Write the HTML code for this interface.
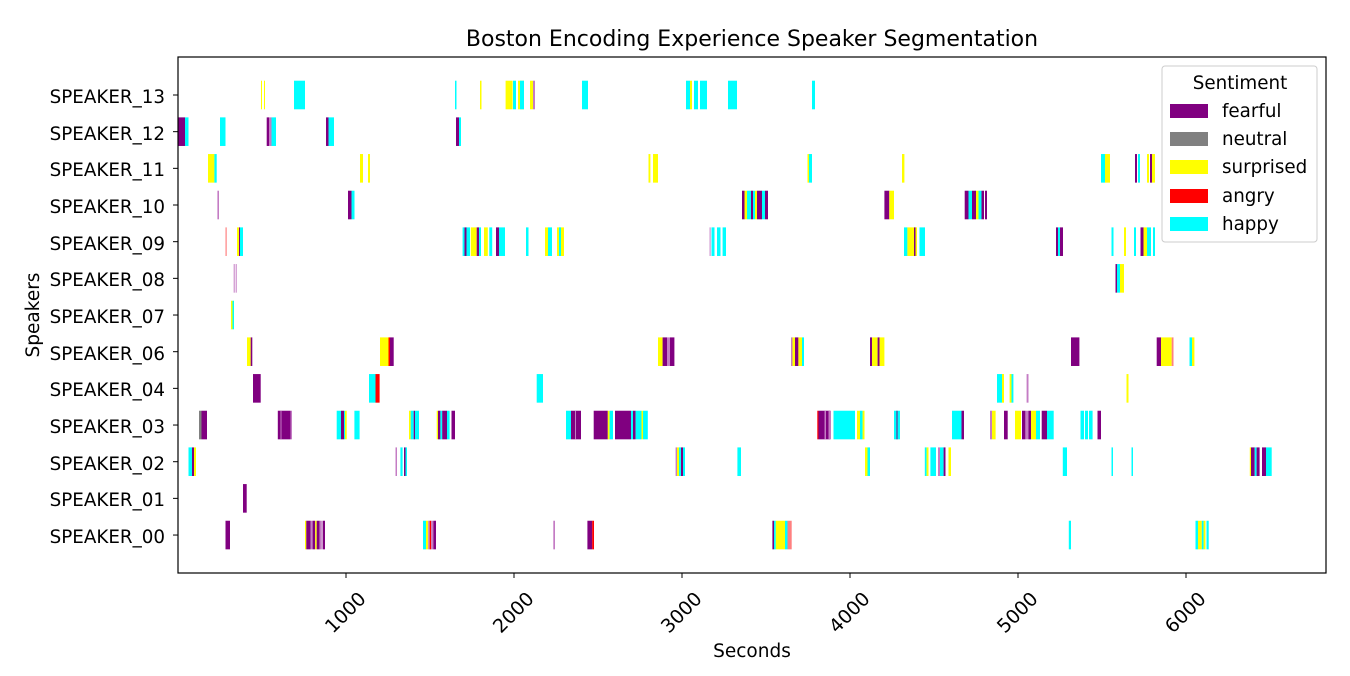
<!DOCTYPE html>
<html><head><meta charset="utf-8"><style>
html,body{margin:0;padding:0;background:#fff;}
svg{display:block;font-family:"DejaVu Sans","Liberation Sans",sans-serif;}
</style></head><body>
<svg id="s" width="1350" height="676" viewBox="0 0 1350 676" xmlns="http://www.w3.org/2000/svg">
<rect width="1350" height="676" fill="#fff"/>
<g id="bars"></g>
<rect x="178" y="57" width="1148" height="516" fill="none" stroke="#000" stroke-width="1.2"/>
<text x="752" y="46" font-size="22" text-anchor="middle">Boston Encoding Experience Speaker Segmentation</text>
<g font-size="18.3" text-anchor="end" id="ylab">
<text x="165" y="103">SPEAKER_13</text>
<text x="165" y="140">SPEAKER_12</text>
<text x="165" y="176">SPEAKER_11</text>
<text x="165" y="213">SPEAKER_10</text>
<text x="165" y="250">SPEAKER_09</text>
<text x="165" y="286">SPEAKER_08</text>
<text x="165" y="323">SPEAKER_07</text>
<text x="165" y="360">SPEAKER_06</text>
<text x="165" y="396">SPEAKER_04</text>
<text x="165" y="433">SPEAKER_03</text>
<text x="165" y="470">SPEAKER_02</text>
<text x="165" y="506">SPEAKER_01</text>
<text x="165" y="543">SPEAKER_00</text>
</g>
<g id="yt" stroke="#000" stroke-width="1"></g>
<g font-size="19" text-anchor="middle">
<text transform="translate(350,617) rotate(-45)">1000</text>
<text transform="translate(518,617) rotate(-45)">2000</text>
<text transform="translate(686,617) rotate(-45)">3000</text>
<text transform="translate(854,617) rotate(-45)">4000</text>
<text transform="translate(1022,617) rotate(-45)">5000</text>
<text transform="translate(1190,617) rotate(-45)">6000</text>
</g>
<g stroke="#000" stroke-width="1">
<line x1="346" y1="573" x2="346" y2="578"/><line x1="514" y1="573" x2="514" y2="578"/><line x1="682" y1="573" x2="682" y2="578"/><line x1="850" y1="573" x2="850" y2="578"/><line x1="1018" y1="573" x2="1018" y2="578"/><line x1="1186" y1="573" x2="1186" y2="578"/>
</g>
<text x="752" y="657" font-size="18.5" text-anchor="middle">Seconds</text>
<text transform="translate(39,315) rotate(-90)" font-size="18.5" text-anchor="middle">Speakers</text>
<rect x="1162" y="66" width="155" height="176" rx="3" fill="#fff" fill-opacity="0.8" stroke="#ccc"/>
<text x="1240" y="89" font-size="18.3" text-anchor="middle">Sentiment</text>
<rect x="1170" y="104" width="38" height="14" fill="#800080"/>
<rect x="1170" y="132" width="38" height="14" fill="#808080"/>
<rect x="1170" y="160" width="38" height="14" fill="#ffff00"/>
<rect x="1170" y="189" width="38" height="14" fill="#ff0000"/>
<rect x="1170" y="217" width="38" height="14" fill="#00ffff"/>
<g font-size="18.3">
<text x="1222" y="117">fearful</text>
<text x="1222" y="145">neutral</text>
<text x="1222" y="173">surprised</text>
<text x="1222" y="202">angry</text>
<text x="1222" y="230">happy</text>
</g>
</svg>
<script>
var P='#800080',L='#c47cc4',G='#808080',Y='#ffff00',R='#ff0000',C='#00ffff',LR='#ff8080';
var rows=[
[[261,262,Y],[264,265,Y],[294,305,C],[455,456.5,C],[480,481.5,Y],[505.6,512.6,Y],[513,516,C],[518,524,Y],[520,524,C],[530,533,Y],[533,535,L],[582,588,C],[686,690,C],[690,692,Y],[694,698,C],[700,707,C],[728,737,C],[812,815,C]],
[[178,185,P],[185,188.5,C],[220,225.5,C],[266.7,269,P],[269,271.5,L],[271.5,276,C],[326,328.5,P],[328.5,334,C],[456,459,P],[459,461,C]],
[[208,214.4,Y],[214.4,216.7,C],[360,363,Y],[368,370,Y],[648.5,650.4,Y],[653,658,Y],[807.5,809,Y],[809,812,C],[902,904.4,Y],[1101,1105,C],[1105,1110,Y],[1135,1137,P],[1138,1140,C],[1147,1149,Y],[1150,1152,P],[1152,1155,Y]],
[[217.4,219,L],[348,351.5,P],[351.5,354.5,C],[742,744.6,P],[744.6,747,Y],[747,751,C],[751,753,P],[753,755,C],[755,757,Y],[757,762,P],[762,765,C],[765,768,P],[884.4,889.3,P],[889.3,894,Y],[964.7,968.5,P],[968.5,972,C],[972,976,P],[976,978.5,Y],[978.5,981.5,C],[981.5,984,P],[985,987,P]],
[[225.5,226.7,LR],[237,239,Y],[239,240,P],[240,243,C],[462.6,464.5,C],[464.5,466.5,P],[466.5,470,C],[470.8,476.7,Y],[476.7,479,P],[479,481,C],[484,487.8,Y],[489.3,492.2,C],[496,499,P],[499,505,C],[526,528.5,C],[545,548,Y],[548,552,C],[557,564,Y],[559,561,C],[709.6,710.6,L],[711.5,714.5,C],[717,720.5,C],[722.6,726,C],[904,907.4,C],[907.4,917,Y],[914,915.5,P],[919.5,925,C],[1056,1058,P],[1058,1060,C],[1060,1063,P],[1111.5,1113.5,C],[1124,1126,Y],[1134,1136,C],[1140.5,1143.5,P],[1143.5,1147,Y],[1147,1151,C],[1153,1155,C]],
[[233.7,234.7,L],[235.7,236.7,L],[1115.5,1117,P],[1117,1120,C],[1120,1124,Y]],
[[231,232.5,Y],[232.5,234,C]],
[[247,250.7,Y],[250.7,252.3,P],[380,388.5,Y],[388.5,390,R],[390,393.7,P],[658,662.6,Y],[662.6,667,P],[667,670,L],[670,674.4,P],[791,792.5,L],[792.5,795,Y],[795,798.4,P],[798.4,802,Y],[802,804,C],[870,872,P],[872,877.6,Y],[877.6,879.5,P],[879.5,884.4,Y],[1071,1079.4,P],[1156.7,1161,P],[1161,1171.7,Y],[1171.7,1173.5,LR],[1189.5,1192,C],[1192,1194.4,Y]],
[[253,260.7,P],[369,375.5,C],[375.5,379.6,R],[536.7,543,C],[997,1002,C],[1002,1004,Y],[1009.6,1011.5,Y],[1011.5,1013.4,C],[1026.6,1028.5,L],[1126.5,1128.5,Y]],
[[199,201.5,G],[201.5,207,P],[277.8,290.5,P],[280.5,281.5,L],[290.5,292,L],[336.7,341,C],[341,344,P],[344,345,C],[345,346.7,Y],[354.4,359.6,C],[409,410.7,Y],[410.7,413.7,C],[413.7,415,P],[415,419,C],[436.7,438,Y],[438,440.4,P],[440.4,442.2,C],[442.2,447,P],[447,449.6,C],[451.5,455,P],[566,571,C],[571,581,P],[575,576,L],[593.7,607.8,P],[607.8,609.6,Y],[609.6,613,C],[615,631,P],[631,633,C],[633,635.6,P],[635.6,641.5,C],[641.5,643,Y],[643,647.8,C],[817.3,818.5,R],[818.5,830.5,P],[824.5,826,L],[828.5,830,L],[833.5,855,C],[857,860,Y],[860,862.6,C],[862.6,864.5,Y],[894,900,C],[896.5,897.5,P],[952,961.5,C],[961.5,964,P],[990,992,L],[992,995.6,Y],[1004,1007.7,P],[1015,1021,Y],[1022,1025.4,P],[1025.4,1028.5,L],[1028.5,1031,P],[1031,1036,Y],[1036,1040,C],[1041.7,1047,P],[1047,1053.7,C],[1080.5,1084,C],[1085,1088,C],[1089,1092.6,C],[1097.5,1101,P]],
[[188.5,192,C],[192,194,P],[194,196,Y],[395.5,397,L],[400.4,402.6,C],[404,405.5,P],[405.5,407,C],[675.6,677,L],[677,679,Y],[679,681,C],[681,683,P],[683,685,C],[737.4,741,C],[865,867.5,Y],[867.5,870,C],[924.8,926.6,C],[926.6,928.5,Y],[930.4,936,C],[938,940,L],[940,943.6,C],[943.6,945.5,P],[948.5,951,Y],[1062.8,1067,C],[1111.5,1113,C],[1131.5,1133,C],[1249.8,1251,Y],[1251,1254.7,P],[1254.7,1256.6,C],[1256.6,1259.6,P],[1262,1266,P],[1266,1268.5,C],[1268.5,1271.7,C]],
[[243,246.7,P]],
[[225.5,230,P],[305,306.3,Y],[306.3,310.7,P],[310.7,312.6,L],[312.6,315.2,P],[315.2,316.7,Y],[316.7,319.6,P],[319.6,321.8,L],[322.6,325,P],[423,426,C],[426,428.2,Y],[428.2,429.7,L],[429.7,431.2,R],[431.2,433.4,L],[433.4,436,P],[553.3,555,L],[587.4,592.2,P],[592.2,594,R],[772.4,774,P],[774,775.8,C],[775.8,785,Y],[785,787.5,C],[787.5,791.7,LR],[1068.8,1071,C],[1195.5,1198,C],[1198,1201.8,Y],[1201.8,1203.6,C],[1203.6,1205.5,Y],[1206.5,1208.7,C]]
];
var ns='http://www.w3.org/2000/svg',g=document.getElementById('bars'),yt=document.getElementById('yt');
rows.forEach(function(r,i){
 var top=80.7+i*36.67;
 r.forEach(function(b){var e=document.createElementNS(ns,'rect');e.setAttribute('x',b[0]);e.setAttribute('width',Math.max(b[1]-b[0],1));e.setAttribute('y',top);e.setAttribute('height',28.6);e.setAttribute('fill',b[2]);g.appendChild(e);});
 var l=document.createElementNS(ns,'line');var cy=top+14.3;l.setAttribute('x1',173);l.setAttribute('x2',178);l.setAttribute('y1',cy);l.setAttribute('y2',cy);yt.appendChild(l);
});
</script>
</body></html>
